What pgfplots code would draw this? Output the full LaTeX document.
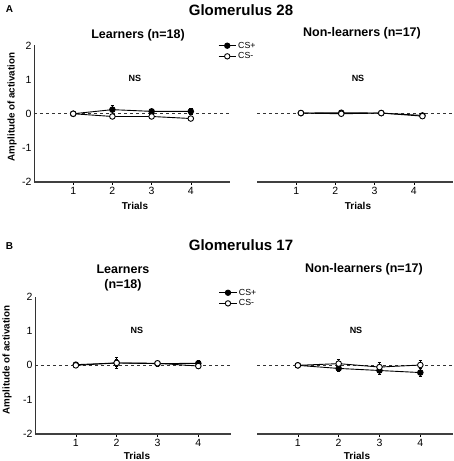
\documentclass[border=0pt]{standalone}
\usepackage{fontspec}
\setmainfont{Liberation Sans}
\usepackage{pgfplots}
\pgfplotsset{compat=1.18}
\pgfplotsset{
  panel/.style={
    scale only axis, width=196pt, height=136.5pt,
    xmin=0, xmax=5, ymin=-2, ymax=2,
    xtick={1,2,3,4}, xticklabels={1,2,3,4},
    axis x line*=bottom,
    xtick align=outside,
    x axis line style={line width=1.2pt, draw=black!75},
    major tick length=3pt,
    tick style={black, line width=0.6pt},
    tick label style={font=\fontsize{10.5}{12}\selectfont},
    xticklabel style={yshift=1.5pt},
    clip=false,
  },
  leftp/.style={panel,
    axis y line*=left,
    ytick={-2,-1,0,1,2}, yticklabels={-2,-1,0,1,2},
    ytick style={draw=none},
    yticklabel style={xshift=1pt},
    y axis line style={line width=0.9pt, draw=black!80},
  },
  rightp/.style={panel, axis y line=none, ytick=\empty},
  csp/.style={black, line width=0.9pt, mark=*, mark size=2.8pt,
    mark options={fill=black, solid},
    error bars/.cd, y dir=both, y explicit,
    error bar style={line width=0.6pt, black}, error mark options={rotate=90, mark size=1.8pt, line width=0.6pt}},
  csm/.style={black, line width=0.9pt, mark=*, mark size=2.8pt,
    mark options={fill=white, solid, line width=0.9pt},
    error bars/.cd, y dir=both, y explicit,
    error bar style={line width=0.6pt, black}, error mark options={rotate=90, mark size=1.8pt, line width=0.6pt}},
  zline/.style={black!80, dashed, line width=0.6pt, forget plot, mark=none},
  lgd/.style={legend style={draw=none, fill=none, anchor=north west,
    font=\fontsize{8.8}{10}\selectfont, row sep=-1pt, inner sep=1pt,
    legend cell align=left},
    legend image post style={line width=0.9pt, mark size=2.7pt}},
}
\begin{document}
\begin{tikzpicture}
\path[use as bounding box] (0pt,0pt) rectangle (454pt,461pt);
% ---------- Panel A ----------
\begin{axis}[leftp, at={(34pt,279pt)}, anchor=south west,
  lgd, legend style={at={(0.934,1.05)}}]
\addplot[zline] coordinates {(0,0) (5,0)};
\addplot[csp] coordinates {(1,0.0) +- (0,0.03) (2,0.12) +- (0,0.13) (3,0.07) +- (0,0.06) (4,0.07) +- (0,0.08)};
\addplot[csm] coordinates {(1,0.0) +- (0,0.02) (2,-0.08) +- (0,0.05) (3,-0.08) +- (0,0.05) (4,-0.14) +- (0,0.05)};
\legend{CS+, CS-}
\end{axis}
\begin{axis}[rightp, at={(257pt,279pt)}, anchor=south west]
\addplot[zline] coordinates {(0,0) (5,0)};
\addplot[csp] coordinates {(1.12,0.02) +- (0,0.02) (2.15,0.03) +- (0,0.08) (3.17,0.02) +- (0,0.03) (4.22,-0.05) +- (0,0.03)};
\addplot[csm] coordinates {(1.12,0.02) +- (0,0.02) (2.15,0.0) +- (0,0.05) (3.17,0.02) +- (0,0.03) (4.22,-0.07) +- (0,0.04)};
\end{axis}
% ---------- Panel B ----------
\begin{axis}[leftp, at={(35pt,27pt)}, anchor=south west, height=137.3pt, xmax=4.8]
\addplot[zline] coordinates {(0,0) (4.8,0)};
\addplot[csp] coordinates {(1,0.02) +- (0,0.02) (2,0.07) +- (0,0.1) (3,0.05) +- (0,0.08) (4,0.06) +- (0,0.1)};
\addplot[csm] coordinates {(1,0.0) +- (0,0.02) (2,0.07) +- (0,0.16) (3,0.06) +- (0,0.07) (4,-0.02) +- (0,0.08)};
\end{axis}
\begin{axis}[rightp, at={(257pt,27pt)}, anchor=south west, height=137.3pt, xmax=4.8,
  lgd, legend style={at={(-0.2,1.08)}}]
\addplot[zline] coordinates {(0,0) (4.8,0)};
\addplot[csp] coordinates {(1,0.0) +- (0,0.02) (2,-0.09) +- (0,0.08) (3,-0.15) +- (0,0.1) (4,-0.21) +- (0,0.12)};
\addplot[csm] coordinates {(1,0.0) +- (0,0.02) (2,0.05) +- (0,0.12) (3,-0.05) +- (0,0.13) (4,0.01) +- (0,0.15)};
\legend{CS+, CS-}
\end{axis}
% ---------- Texts ----------
\node[font=\bfseries\fontsize{10}{11}\selectfont] at (9.5pt,452pt) {A};
\node[font=\bfseries\fontsize{15}{17}\selectfont] at (241pt,451pt) {Glomerulus 28};
\node[font=\bfseries\fontsize{12.5}{14}\selectfont] at (138pt,426pt) {Learners (n=18)};
\node[font=\bfseries\fontsize{12.5}{14}\selectfont] at (362pt,428pt) {Non-learners (n=17)};
\node[font=\bfseries\fontsize{9}{10}\selectfont] at (135pt,383pt) {NS};
\node[font=\bfseries\fontsize{9}{10}\selectfont] at (358pt,383pt) {NS};
\node[font=\bfseries\fontsize{10}{11}\selectfont] at (135pt,255pt) {Trials};
\node[font=\bfseries\fontsize{10}{11}\selectfont] at (358pt,255pt) {Trials};
\node[font=\bfseries\fontsize{9.8}{11}\selectfont, rotate=90] at (12pt,354pt) {Amplitude of activation};
\node[font=\bfseries\fontsize{10}{11}\selectfont] at (9.5pt,215pt) {B};
\node[font=\bfseries\fontsize{15}{17}\selectfont] at (241pt,216pt) {Glomerulus 17};
\node[font=\bfseries\fontsize{12.5}{15}\selectfont, align=center] at (123pt,183pt) {Learners\\(n=18)};
\node[font=\bfseries\fontsize{12.5}{14}\selectfont] at (364pt,192pt) {Non-learners (n=17)};
\node[font=\bfseries\fontsize{9}{10}\selectfont] at (137pt,131pt) {NS};
\node[font=\bfseries\fontsize{9}{10}\selectfont] at (356pt,131pt) {NS};
\node[font=\bfseries\fontsize{10}{11}\selectfont] at (137pt,5pt) {Trials};
\node[font=\bfseries\fontsize{10}{11}\selectfont] at (357pt,5pt) {Trials};
\node[font=\bfseries\fontsize{9.8}{11}\selectfont, rotate=90] at (7pt,101pt) {Amplitude of activation};
\end{tikzpicture}
\end{document}
